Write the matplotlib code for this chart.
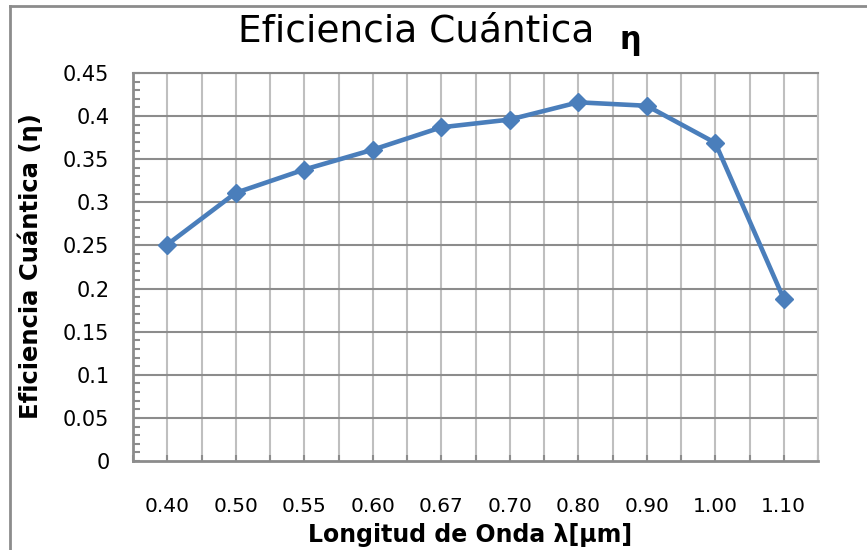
import matplotlib
matplotlib.use("Agg")
import matplotlib.pyplot as plt
from matplotlib.lines import Line2D
from matplotlib.ticker import MultipleLocator

# datos
longitudes = ["0.40", "0.50", "0.55", "0.60", "0.67", "0.70", "0.80", "0.90", "1.00", "1.10"]
eficiencia = [0.251, 0.311, 0.338, 0.361, 0.387, 0.396, 0.416, 0.412, 0.369, 0.188]
y_ticks = [0, 0.05, 0.1, 0.15, 0.2, 0.25, 0.3, 0.35, 0.4, 0.45]
y_labels = ["0", "0.05", "0.1", "0.15", "0.2", "0.25", "0.3", "0.35", "0.4", "0.45"]

fuente = ["DejaVu Sans"]

fig = plt.figure(figsize=(8.67, 5.5), dpi=100)
ax = fig.add_axes([133 / 867, 89 / 550, 685 / 867, 388 / 550])

x = list(range(len(longitudes)))
ax.plot(x, eficiencia, color="#4A7EBB", lw=3.3, marker="D", ms=9.5,
        mec="#4A7EBB", mfc="#4A7EBB", zorder=5, clip_on=False)

ax.set_xlim(-0.5, len(longitudes) - 0.5)
ax.set_ylim(0, 0.45)

# rejilla vertical cada media categoria
for i in range(2 * len(longitudes) + 1):
    xv = -0.5 + i * 0.5
    ax.axvline(xv, color="#BFBFBF", lw=1.5, zorder=1)
for yv in y_ticks[1:]:
    ax.axhline(yv, color="#8C8C8C", lw=1.5, zorder=2)

ax.set_xticks(x)
ax.set_xticklabels(longitudes, family=fuente, fontsize=14.5)
ax.set_xticks([v + 0.5 for v in x[:-1]] + [-0.5, 9.5], minor=True)
ax.tick_params(axis="x", which="both", direction="in", length=4, width=1.5,
               color="#8C8C8C", pad=26)

ax.set_yticks(y_ticks)
ax.set_yticklabels(y_labels, family=fuente, fontsize=15)
ax.yaxis.set_minor_locator(MultipleLocator(0.01))
ax.tick_params(axis="y", which="both", direction="in", length=5, width=1.5,
               color="#8C8C8C", pad=17)

for s in ["left", "bottom"]:
    ax.spines[s].set_color("#8C8C8C")
    ax.spines[s].set_linewidth(2)
ax.spines["top"].set_color("#8C8C8C")
ax.spines["top"].set_linewidth(1.5)
ax.spines["right"].set_color("#BFBFBF")
ax.spines["right"].set_linewidth(1.5)

ax.set_xlabel("Longitud de Onda λ[μm]", family=fuente, fontsize=17,
              fontweight="bold", va="center")
ax.xaxis.set_label_coords(0.492, -0.190)
ax.set_ylabel("Eficiencia Cuántica (η)", family=fuente, fontsize=17.5,
              fontweight="bold", va="center")
ax.yaxis.set_label_coords(-0.150, 0.503)

fig.text(238 / 867, 1 - 31 / 550, "Eficiencia Cuántica", family=fuente,
         fontsize=27, va="center", ha="left")
fig.text(620 / 867, 1 - 41 / 550, "η", family=fuente, fontsize=22,
         fontweight="bold", va="center", ha="left")

# marco del grafico
fig.add_artist(Line2D([10 / 867, 10 / 867], [0, 1 - 6 / 550],
                      transform=fig.transFigure, color="#8C8C8C", lw=2))
fig.add_artist(Line2D([10 / 867, 1], [1 - 6 / 550, 1 - 6 / 550],
                      transform=fig.transFigure, color="#8C8C8C", lw=2))

fig.savefig("out.png", dpi=100)
